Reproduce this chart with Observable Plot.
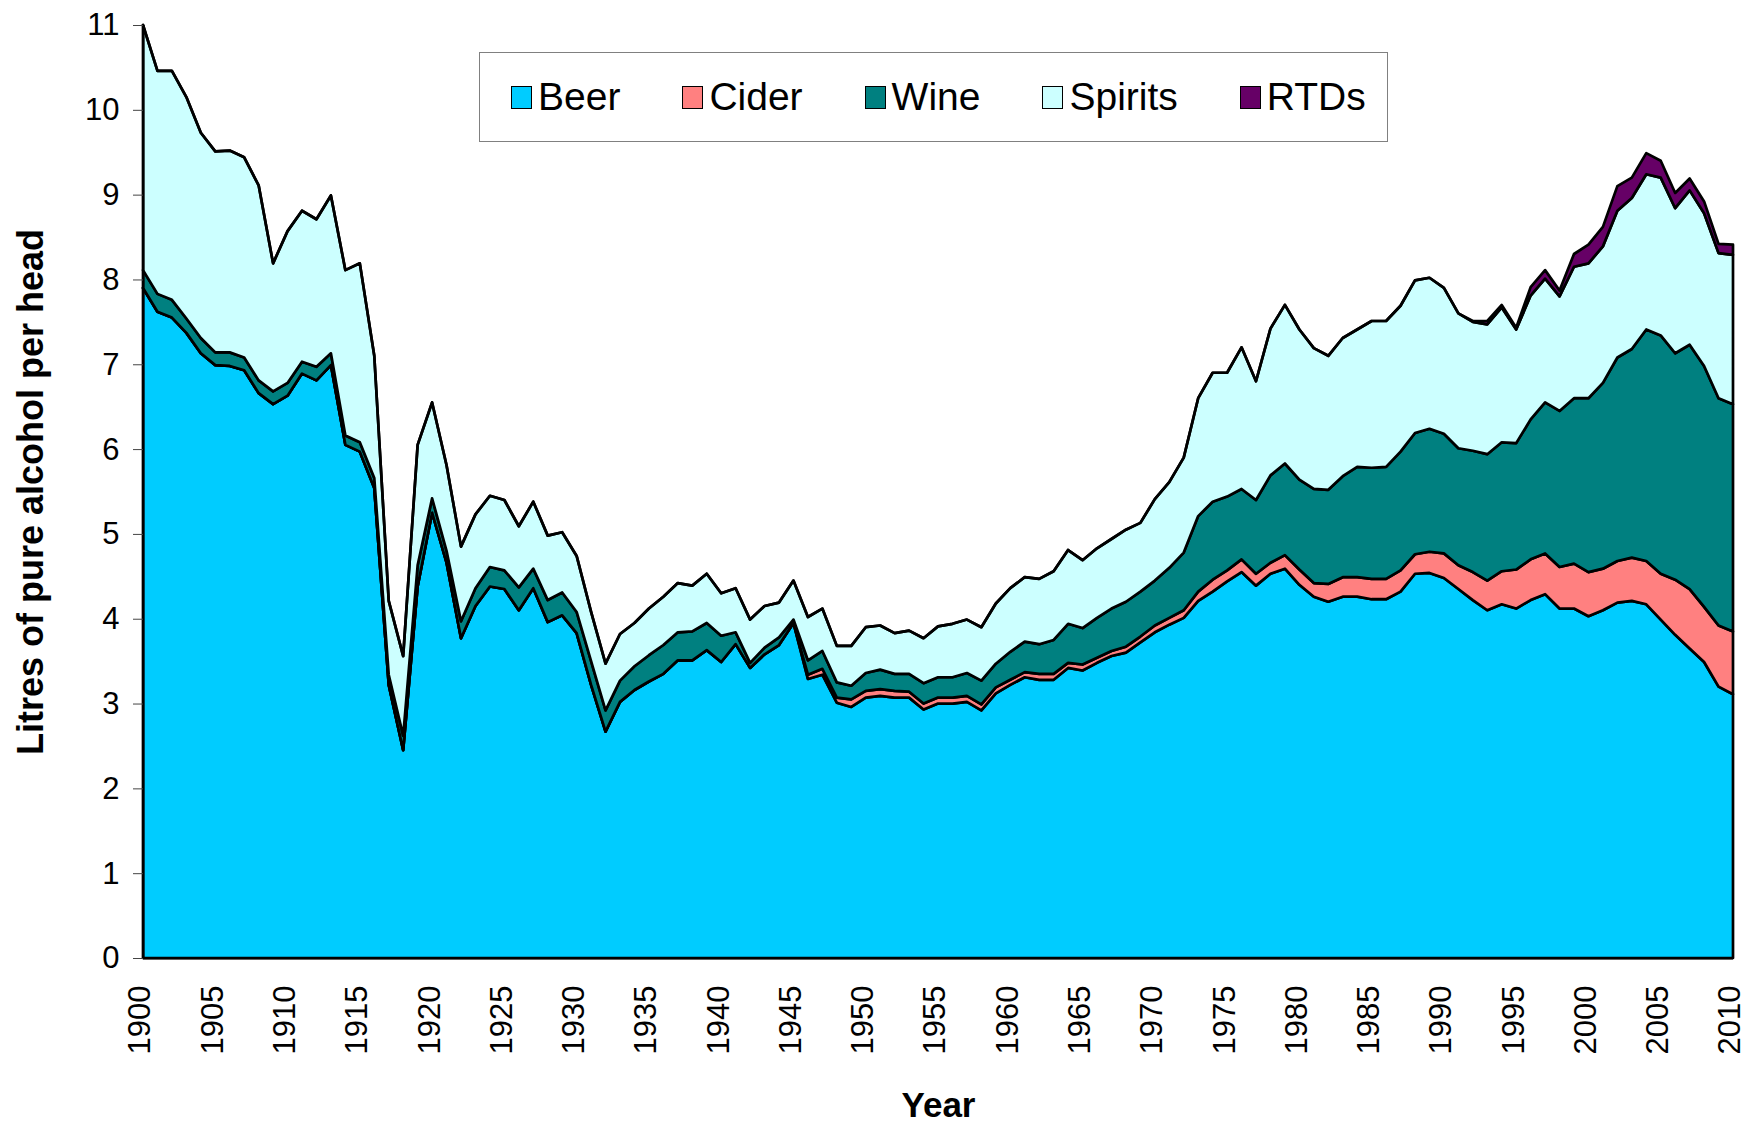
<!DOCTYPE html>
<html>
<head>
<meta charset="utf-8">
<script src="https://cdn.jsdelivr.net/npm/d3@7"></script>
<script src="https://cdn.jsdelivr.net/npm/@observablehq/plot@0.6"></script>
<style>
  html, body { margin: 0; padding: 0; background: #ffffff; }
  #wrap { position: relative; width: 1747px; height: 1123px; font-family: "Liberation Sans", Arial, sans-serif; }
  #legend { position: absolute; left: 479px; top: 52px; width: 909px; height: 90px; box-sizing: border-box;
    border: 1.5px solid #808080; background: #ffffff; display: flex; align-items: center; padding-left: 31px; gap: 62px; }
  .item { display: flex; align-items: center; font-size: 39px; color: #000; }
  .sw { display: inline-block; width: 21px; height: 23px; border: 1.5px solid #000; margin-right: 6px; box-sizing: border-box; }
</style>
</head>
<body>
<div id="wrap"><div id="chart"></div><div id="legend"></div></div>
<script>
const types = ["Beer", "Cider", "Wine", "Spirits", "RTDs"];
const colors = ["#00CCFF", "#FF8080", "#008080", "#CCFFFF", "#660066"];
const firstYear = 1900, lastYear = 2010;
const years = d3.range(firstYear, lastYear + 1);
const xTicks = d3.range(1900, 2011, 5);
const yTicks = [0, 1, 2, 3, 4, 5, 6, 7, 8, 9, 10, 11];

const beer = [
  7.90, 7.62, 7.55, 7.37, 7.13, 6.99, 6.98, 6.93, 6.66, 6.53,
  6.63, 6.89, 6.81, 6.99, 6.05, 5.97, 5.54, 3.22, 2.45, 4.38,
  5.25, 4.66, 3.77, 4.15, 4.38, 4.35, 4.10, 4.36, 3.96, 4.04,
  3.83, 3.22, 2.67, 3.02, 3.16, 3.26, 3.35, 3.51, 3.51, 3.63,
  3.49, 3.70, 3.42, 3.58, 3.69, 3.95, 3.29, 3.34, 3.01, 2.96,
  3.07, 3.09, 3.07, 3.07, 2.93, 3.00, 3.00, 3.02, 2.92, 3.12,
  3.22, 3.31, 3.28, 3.28, 3.42, 3.39, 3.48, 3.56, 3.60, 3.72,
  3.84, 3.93, 4.01, 4.21, 4.32, 4.44, 4.55, 4.39, 4.53, 4.59,
  4.40, 4.26, 4.20, 4.26, 4.26, 4.23, 4.23, 4.32, 4.53, 4.54,
  4.48, 4.35, 4.22, 4.10, 4.17, 4.12, 4.22, 4.29, 4.12, 4.12,
  4.03, 4.10, 4.19, 4.21, 4.17, 3.99, 3.81, 3.65, 3.49, 3.20,
  3.11
];
const cider = [
  0, 0, 0, 0, 0, 0, 0, 0, 0, 0,
  0, 0, 0, 0, 0, 0, 0, 0, 0, 0,
  0, 0, 0, 0, 0, 0, 0, 0, 0, 0,
  0, 0, 0, 0, 0, 0, 0, 0, 0, 0,
  0, 0, 0, 0, 0, 0, 0.05, 0.07, 0.06, 0.09,
  0.08, 0.08, 0.08, 0.07, 0.07, 0.07, 0.07, 0.07, 0.07, 0.07,
  0.06, 0.06, 0.07, 0.07, 0.06, 0.07, 0.06, 0.06, 0.07, 0.07,
  0.08, 0.08, 0.09, 0.11, 0.14, 0.13, 0.15, 0.14, 0.13, 0.16,
  0.18, 0.16, 0.21, 0.23, 0.23, 0.24, 0.24, 0.25, 0.23, 0.25,
  0.29, 0.28, 0.33, 0.35, 0.39, 0.46, 0.48, 0.48, 0.49, 0.53,
  0.52, 0.49, 0.49, 0.51, 0.51, 0.54, 0.65, 0.70, 0.65, 0.72,
  0.74
];
const wine = [
  0.21, 0.21, 0.21, 0.17, 0.18, 0.15, 0.16, 0.15, 0.15, 0.15,
  0.15, 0.14, 0.16, 0.14, 0.11, 0.11, 0.12, 0.12, 0.17, 0.25,
  0.17, 0.14, 0.20, 0.21, 0.23, 0.22, 0.27, 0.23, 0.26, 0.27,
  0.25, 0.28, 0.25, 0.25, 0.28, 0.31, 0.34, 0.33, 0.34, 0.32,
  0.31, 0.14, 0.06, 0.08, 0.09, 0.04, 0.17, 0.21, 0.18, 0.16,
  0.21, 0.23, 0.20, 0.21, 0.24, 0.24, 0.24, 0.27, 0.28, 0.28,
  0.33, 0.36, 0.35, 0.40, 0.46, 0.43, 0.47, 0.50, 0.53, 0.53,
  0.53, 0.59, 0.68, 0.89, 0.92, 0.87, 0.83, 0.87, 1.03, 1.08,
  1.06, 1.11, 1.11, 1.19, 1.30, 1.31, 1.32, 1.40, 1.43, 1.45,
  1.41, 1.38, 1.43, 1.49, 1.52, 1.49, 1.65, 1.78, 1.84, 1.95,
  2.05, 2.19, 2.40, 2.46, 2.73, 2.81, 2.67, 2.88, 2.84, 2.68,
  2.68
];
const spirits = [
  2.89, 2.63, 2.70, 2.61, 2.42, 2.37, 2.38, 2.36, 2.30, 1.51,
  1.79, 1.78, 1.74, 1.86, 1.95, 2.11, 1.44, 0.87, 0.94, 1.42,
  1.13, 1.01, 0.88, 0.87, 0.84, 0.83, 0.72, 0.79, 0.76, 0.71,
  0.66, 0.58, 0.55, 0.55, 0.51, 0.55, 0.57, 0.58, 0.54, 0.58,
  0.50, 0.52, 0.51, 0.49, 0.41, 0.46, 0.51, 0.50, 0.43, 0.47,
  0.54, 0.52, 0.48, 0.51, 0.53, 0.60, 0.63, 0.63, 0.63, 0.71,
  0.75, 0.76, 0.77, 0.81, 0.87, 0.80, 0.82, 0.82, 0.85, 0.81,
  0.96, 1.01, 1.12, 1.39, 1.52, 1.46, 1.67, 1.40, 1.73, 1.87,
  1.77, 1.66, 1.58, 1.63, 1.62, 1.73, 1.72, 1.72, 1.80, 1.78,
  1.72, 1.59, 1.52, 1.53, 1.59, 1.34, 1.46, 1.46, 1.35, 1.55,
  1.59, 1.61, 1.73, 1.78, 1.83, 1.86, 1.71, 1.82, 1.80, 1.71,
  1.76
];
const rtds = [
  0, 0, 0, 0, 0, 0, 0, 0, 0, 0,
  0, 0, 0, 0, 0, 0, 0, 0, 0, 0,
  0, 0, 0, 0, 0, 0, 0, 0, 0, 0,
  0, 0, 0, 0, 0, 0, 0, 0, 0, 0,
  0, 0, 0, 0, 0, 0, 0, 0, 0, 0,
  0, 0, 0, 0, 0, 0, 0, 0, 0, 0,
  0, 0, 0, 0, 0, 0, 0, 0, 0, 0,
  0, 0, 0, 0, 0, 0, 0, 0, 0, 0,
  0, 0, 0, 0, 0, 0, 0, 0, 0, 0,
  0, 0, 0.01, 0.04, 0.03, 0.02, 0.10, 0.10, 0.07, 0.15,
  0.22, 0.23, 0.29, 0.24, 0.25, 0.20, 0.18, 0.14, 0.14, 0.11,
  0.12
];
const yTitle = "Litres of pure alcohol per head";
const xTitle = "Year";

const seriesList = [beer, cider, wine, spirits, rtds];
const rows = types.flatMap((t, i) => years.map((yr, j) => ({year: yr, type: t, value: seriesList[i][j]})));

const chart = Plot.plot({
  width: 1747,
  height: 1123,
  marginLeft: 143,
  marginRight: 14,
  marginTop: 25,
  marginBottom: 165,
  x: {domain: [firstYear, lastYear], label: null},
  y: {domain: [0, 11], label: null},
  color: {domain: types, range: colors},
  style: {fontFamily: "'Liberation Sans', Arial, sans-serif", background: "#ffffff", color: "#000", overflow: "visible"},
  marks: [
    Plot.areaY(rows, {x: "year", y: "value", z: "type", fill: "type", order: types,
      stroke: "#000", strokeWidth: 2.7, strokeLinejoin: "round"}),
    Plot.ruleY([0], {stroke: "#000", strokeWidth: 2}),
    Plot.ruleX([firstYear], {y1: 0, y2: 11, stroke: "#000", strokeWidth: 2}),
    Plot.axisY({ticks: yTicks, tickFormat: d => String(d), tickSize: 10, tickPadding: 14, fontSize: 31, label: null, stroke: "#444"}),
    Plot.axisX({ticks: xTicks, tickFormat: d => String(d), tickRotate: -90, tickSize: 0, tickPadding: 27, fontSize: 31, dx: -3, label: null}),
    Plot.text([yTitle], {text: d => d, frameAnchor: "left", dx: -112, rotate: -90, textAnchor: "middle", fontSize: 36, fontWeight: "bold", fill: "#000"}),
    Plot.text([xTitle], {text: d => d, frameAnchor: "bottom", dy: 147, lineAnchor: "middle", fontSize: 35, fontWeight: "bold", fill: "#000"})
  ]
});
document.getElementById("chart").appendChild(chart);

const legend = document.getElementById("legend");
types.forEach((t, i) => {
  const item = document.createElement("div");
  item.className = "item";
  const sw = document.createElement("span");
  sw.className = "sw";
  sw.style.background = colors[i];
  const label = document.createElement("span");
  label.textContent = t;
  item.appendChild(sw);
  item.appendChild(label);
  legend.appendChild(item);
});
</script>
</body>
</html>
